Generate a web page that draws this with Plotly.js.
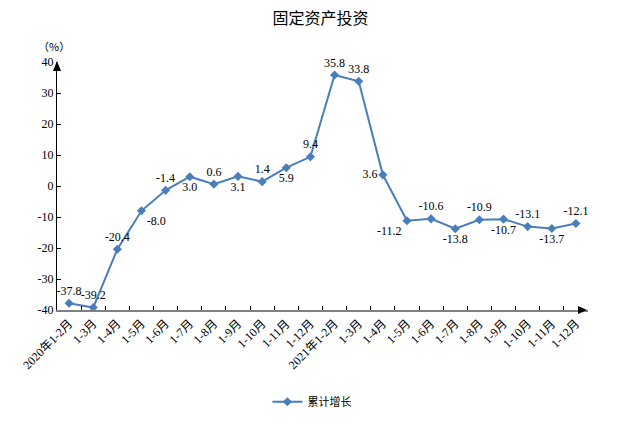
<!DOCTYPE html>
<html>
<head>
<meta charset="utf-8">
<script src="https://cdn.plot.ly/plotly-3.0.1.min.js"></script>
<style>html,body{margin:0;padding:0;background:#fff;}#chart{width:641px;height:430px;}</style>
</head>
<body>
<div id="chart"></div>
<script>
const categories = ["2020年1-2月","1-3月","1-4月","1-5月","1-6月","1-7月","1-8月","1-9月","1-10月","1-11月","1-12月",
  "2021年1-2月","1-3月","1-4月","1-5月","1-6月","1-7月","1-8月","1-9月","1-10月","1-11月","1-12月"];
const cumulativeGrowth = [-37.8,-39.2,-20.4,-8.0,-1.4,3.0,0.6,3.1,1.4,5.9,9.4,35.8,33.8,3.6,-11.2,-10.6,-13.8,-10.9,-10.7,-13.1,-13.7,-12.1];
const seriesName = "累计增长";
const yTicks = [-40,-30,-20,-10,0,10,20,30,40];

// label placement (style)
const textPos = ["top center","top center","top center","bottom right","top center","bottom center","top center","bottom center",
  "top center","bottom center","top center","top center","top center","middle left","bottom left","top center","bottom center",
  "top center","bottom center","top center","bottom center","top center"];

// unique x keys so repeated labels stay separate categories
const xKeys = categories.map((c,i)=>i);

const serif = "Liberation Serif, 'Noto Sans CJK SC', serif";
const lineColor = "#4a7ebb";

const trace = {
  x: xKeys,
  y: cumulativeGrowth,
  type: "scatter",
  mode: "lines+markers+text",
  name: seriesName,
  line: {color: lineColor, width: 2},
  marker: {symbol: "diamond", size: 7, color: lineColor},
  text: cumulativeGrowth.map(v => v.toFixed(1)),
  textposition: textPos,
  textfont: {family: serif, size: 12, color: "#000"},
  cliponaxis: false
};

const W = 641, H = 430, ml = 57, mr = 53, mt = 62, mb = 120;
const pw = W - ml - mr, ph = H - mt - mb;

const layout = {
  width: W, height: H,
  margin: {l: ml, r: mr, t: mt, b: mb},
  paper_bgcolor: "#fff", plot_bgcolor: "#fff",
  title: {text: "固定资产投资", x: 0.5, xref: "container", y: 0.958, yanchor: "middle",
    font: {family: "'Noto Sans CJK SC', sans-serif", size: 16, color: "#000"}},
  showlegend: true,
  legend: {orientation: "h", x: 0.48, xanchor: "center", y: -0.37, yanchor: "middle",
    font: {family: "'Noto Sans CJK SC', sans-serif", size: 11, color: "#000"}},
  xaxis: {
    type: "category",
    range: [-0.5, categories.length - 0.5],
    tickmode: "array", tickvals: xKeys, ticktext: categories,
    tickangle: -45,
    tickson: "boundaries",
    ticks: "inside", ticklen: 4, tickcolor: "#000",
    showline: true, linecolor: "#808080", linewidth: 2,
    showgrid: false, zeroline: false,
    tickfont: {family: serif, size: 12, color: "#000"}
  },
  yaxis: {
    range: [-40, 40],
    tickmode: "array", tickvals: yTicks, ticktext: yTicks.map(String),
    ticks: "inside", ticklen: 4, tickcolor: "#000",
    showline: true, linecolor: "#000", linewidth: 1,
    showgrid: false, zeroline: false,
    tickfont: {family: serif, size: 12, color: "#000"}
  },
  annotations: [
    {text: "（%）", xref: "paper", yref: "paper", x: -0.005, y: 1 + 16/ph, xanchor: "center", yanchor: "middle",
     showarrow: false, font: {family: "'Noto Sans CJK SC', sans-serif", size: 11, color: "#000"}}
  ],
  shapes: [
    {type: "path", xref: "paper", yref: "paper", fillcolor: "#000", line: {width: 0},
     path: `M ${-4/pw} ${1-9/ph} L ${4/pw} ${1-9/ph} L 0 ${1+1/ph} Z`},
    {type: "path", xref: "paper", yref: "paper", fillcolor: "#000", line: {width: 0},
     path: `M ${1-10/pw} ${4/ph} L ${1-10/pw} ${-4/ph} L ${1-1/pw} 0 Z`}
  ]
};

Plotly.newPlot("chart", [trace], layout, {displayModeBar: false, staticPlot: true});
</script>
</body>
</html>
